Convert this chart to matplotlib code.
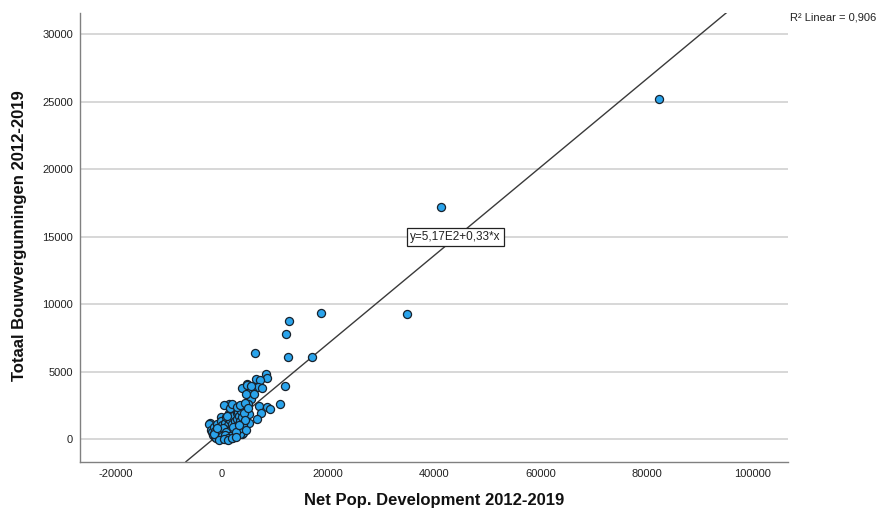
import numpy as np
import matplotlib
matplotlib.use('Agg')
import matplotlib.pyplot as plt

plt.rcParams['font.family'] = ['Liberation Sans', 'DejaVu Sans']
plt.rcParams['axes.unicode_minus'] = False

# Net Pop. Development vs Totaal Bouwvergunningen
net_pop = [82300, 41300, 34900, 18700, 17100, 12700, 12200, 6300, 12400, 12000,
           11000, 8350, 8450, 6450, 7250, 4800, 3900, 6800, 7500, 5750,
           5250, 5550, 5000, 7100, 8450, 9100, 7400, 6700, 5200, 5100,
           3900, 1450, 2650, 3300, -150, -2200, 4700, 2500, 4050,
           -2300, -2100, -1900, -1700, -1500, -1300, -1200, -1000, -900, -800,
           -700, -600, -500, -400, -300, -200, -100, 0, 100, 200,
           300, 350, 400, 500, 600, 700, 800, 900, 1000, 1100,
           1200, 1300, 1400, 1500, 1600, 1700, 1800, 1900, 2000, 2100,
           2200, 2300, 2400, 2500, 2600, 2700, 2800, 2900, 3000, 3100,
           3200, 3300, 3400, 3500, 3600, 3700, 3800, 4000, 4200, 4400,
           4600, 1000, 1500, 2000, 2800, 3500, 4300, 4500, 5600, 6100,
           4900, -1000, -600, 200, 700, 1300, 1800, 2300, -400, 300,
           900, 1600, 2100, 2700, 3300, -1400, -800, 0, 600, 1200,
           -500, 400, 1100, 1900, 2600]
bouwverg = [25200, 17200, 9300, 9350, 6050, 8750, 7750, 6350, 6050, 3950,
            2600, 4800, 4500, 4450, 4350, 4100, 3750, 3850, 3750, 3550,
            3500, 2950, 2600, 2450, 2400, 2200, 1900, 1450, 1200, 1850,
            350, 2600, 2400, 2200, 1650, 1150, 4000, 1800, 450,
            1100, 700, 500, 300, 900, 150, 600, 400, 1100, 200,
            700, 50, 500, 900, 300, 1300, 100, 600, 1000, 50,
            350, 2500, 800, 150, 1200, 450, 1600, 0, 700, 300,
            1000, 1900, 200, 500, 1400, 800, 2100, 100, 1100, 400,
            1700, 700, 2300, 1300, 300, 900, 1900, 1500, 600, 2000,
            1100, 1700, 400, 1300, 2100, 800, 1600, 1100, 1900, 1400,
            700, 1700, 2300, 2600, 2400, 2500, 2700, 3300, 3900, 3300,
            2300, 50, 250, 400, 150, 600, 350, 150, 600, 800,
            550, 250, 900, 500, 1000, 400, 800, 250, 300, 100,
            -50, 0, -50, 50, 150]

# fitted line
intercept = 517
slope = 0.327
xticks = [-20000, 0, 20000, 40000, 60000, 80000, 100000]
yticks = [0, 5000, 10000, 15000, 20000, 25000, 30000]

fig = plt.figure(figsize=(8.79, 5.14), dpi=100)
ax = fig.add_axes([0.091, 0.1018, 0.8055, 0.8735])

for yv in yticks:
    ax.axhline(yv, color='#d4d4d4', linewidth=1.3, zorder=0)

ax.axline((0, intercept), slope=slope, color='#3a3a3a', linewidth=1.0, zorder=2)

ax.scatter(net_pop, bouwverg, s=34, color='#2aa4ec', edgecolors='#18222c',
           linewidths=0.9, zorder=3)

ax.text(44000, 15000, 'y=5,17E2+0,33*x', fontsize=8.5, ha='center', va='center',
        color='#222222', zorder=4,
        bbox=dict(boxstyle='square,pad=0.25', facecolor='white', edgecolor='#222222', linewidth=0.9))

ax.set_xlim(-26685, 106648)
ax.set_ylim(-1683, 31600)
ax.set_xticks(xticks)
ax.set_yticks(yticks)
ax.tick_params(length=0, labelsize=8, colors='#222222', pad=5)
for s in ['top', 'right']:
    ax.spines[s].set_visible(False)
for s in ['left', 'bottom']:
    ax.spines[s].set_color('#808080')
    ax.spines[s].set_linewidth(1.0)

fig.text(20 / 879, 1 - 236 / 514, 'Totaal Bouwvergunningen 2012-2019', rotation=90,
         ha='center', va='center', fontsize=12, fontweight='bold', color='#111111')
fig.text(434 / 879, 1 - 500 / 514, 'Net Pop. Development 2012-2019',
         ha='center', va='center', fontsize=12, fontweight='bold', color='#111111')
fig.text(790 / 879, 1 - 18 / 514, 'R² Linear = 0,906', ha='left', va='center',
         fontsize=8, color='#222222')

plt.savefig('out.png', dpi=100)
